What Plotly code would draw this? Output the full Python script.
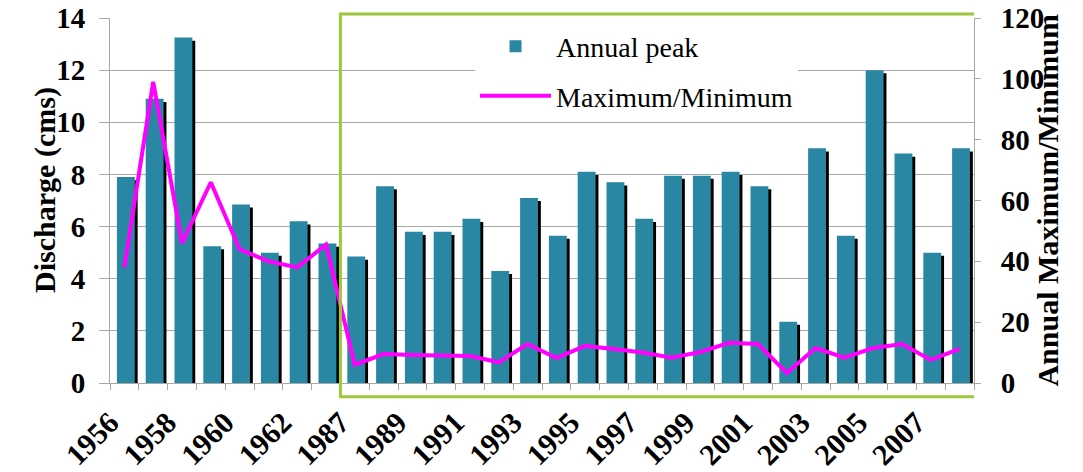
import numpy as np
import plotly.graph_objects as go

years = ["1956", "1957", "1958", "1959", "1960", "1961", "1962", "1963",
         "1987", "1988", "1989", "1990", "1991", "1992", "1993", "1994",
         "1995", "1996", "1997", "1998", "1999", "2000", "2001", "2002",
         "2003", "2004", "2005", "2006", "2007", "2008"]
annual_peak = [7.9, 10.9, 13.25, 5.25, 6.85, 5.0, 6.2, 5.35,
               4.85, 7.55, 5.8, 5.8, 6.3, 4.3, 7.1, 5.65,
               8.1, 7.7, 6.3, 7.95, 7.95, 8.1, 7.55, 2.35,
               9.0, 5.65, 12.0, 8.8, 5.0, 9.0]
max_min = [38, 99, 46, 66, 44, 40, 38, 45.5,
           6, 9.5, 9.2, 9.2, 8.9, 6.8, 12.8, 8.2,
           12.2, 11.2, 10, 8.3, 10.2, 13.2, 12.8, 3.3,
           11.5, 8.3, 11.5, 12.8, 7.6, 11.2]
left_ticks = [0, 2, 4, 6, 8, 10, 12, 14]
right_ticks = [0, 20, 40, 60, 80, 100, 120]
highlight_start = "1987"

FONT = "Liberation Serif"
TEAL = "#2a87a3"
GRID = "#a8a8a8"

n = len(years)
idx = np.arange(n)
boundaries = np.arange(n + 1) - 0.5
btext = [years[i] if (i < n and i % 2 == 0) else "" for i in range(n + 1)]

fig = go.Figure()
# drop shadow
fig.add_trace(go.Bar(x=idx, y=annual_peak, base=-0.12, width=0.62, offset=-0.16,
                     marker=dict(color="#000000", line=dict(width=0)),
                     showlegend=False, hoverinfo="skip"))
fig.add_trace(go.Bar(x=idx, y=annual_peak, width=0.62, offset=-0.26,
                     marker=dict(color=TEAL, line=dict(width=0)),
                     name="Annual peak", legendgroup="a"))
fig.add_trace(go.Scatter(x=idx, y=max_min, yaxis="y2", mode="lines",
                         line=dict(color="#ff00ff", width=4),
                         name="Maximum/Minimum", legendgroup="b"))

fig.update_layout(
    width=1075, height=464,
    margin=dict(l=102, r=109, t=10, b=89, autoexpand=False),
    paper_bgcolor="white", plot_bgcolor="white",
    barmode="overlay",
    font=dict(family=FONT, color="black"),
    showlegend=True,
    legend=dict(x=0.4225, y=0.99, xanchor="left", yanchor="top",
                bgcolor="white", font=dict(family=FONT, size=28),
                traceorder="grouped", tracegroupgap=10, itemwidth=71),
    xaxis=dict(range=[-0.5, n - 0.5], tickmode="array", tickvals=boundaries,
               ticktext=btext, tickangle=-45, ticks="outside", ticklen=6,
               tickcolor=GRID, showgrid=False, showline=True, linecolor=GRID,
               ticklabelstandoff=3, automargin=False,
               tickfont=dict(family=FONT, size=30, weight="bold")),
    yaxis=dict(range=[0, 14], tickmode="array", tickvals=left_ticks,
               ticks="outside", ticklen=10, tickcolor=GRID, showgrid=True,
               gridcolor=GRID, gridwidth=1, showline=True, linecolor=GRID,
               zeroline=False, ticklabelstandoff=8, automargin=False,
               ticklabeloverflow="allow",
               tickfont=dict(family=FONT, size=29, weight="bold")),
    yaxis2=dict(range=[0, 120], tickmode="array", tickvals=right_ticks,
                overlaying="y", side="right", ticks="outside", ticklen=6,
                tickcolor=GRID, showgrid=False, showline=True, linecolor=GRID,
                zeroline=False, ticklabelstandoff=14, automargin=False,
                ticklabeloverflow="allow",
                tickfont=dict(family=FONT, size=29, weight="bold")),
)

start = years.index(highlight_start)
fig.add_shape(type="rect", xref="x", yref="paper",
              x0=start - 0.5, x1=n - 0.5 + 0.28, y0=-0.038, y1=1.011,
              line=dict(color="#9cc83a", width=3), fillcolor="rgba(0,0,0,0)",
              layer="above")

fig.add_annotation(text="Discharge (cms)", xref="paper", yref="paper",
                   x=-0.098, y=0.53, textangle=-90, showarrow=False,
                   font=dict(family=FONT, size=30, weight="bold"))
fig.add_annotation(text="Annual Maximum/Minimum", xref="paper", yref="paper",
                   x=1.106, y=0.5, textangle=-90, showarrow=False,
                   font=dict(family=FONT, size=30, weight="bold"))

fig.write_html("out.html")
